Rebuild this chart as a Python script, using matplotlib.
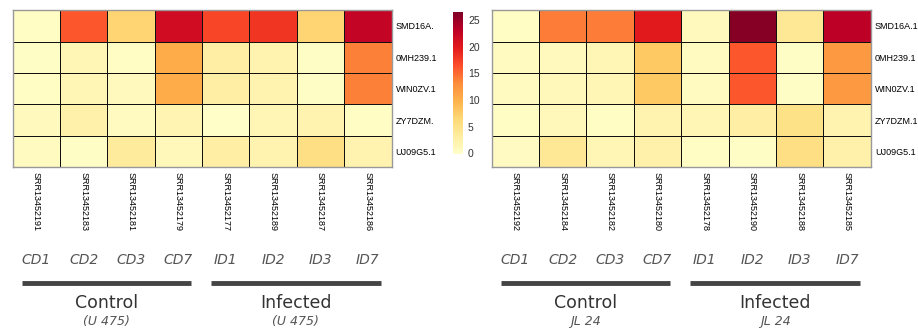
import numpy as np
import matplotlib
matplotlib.use('Agg')
import matplotlib.pyplot as plt
from matplotlib.colors import Normalize

W, H = 918, 331

genes_left = ['SMD16A.', '0MH239.1', 'WIN0ZV.1', 'ZY7DZM.', 'UJ09G5.1']
genes_right = ['SMD16A.1', '0MH239.1', 'WIN0ZV.1', 'ZY7DZM.1', 'UJ09G5.1']

samples_left = ['SRR13452191', 'SRR13452183', 'SRR13452181', 'SRR13452179',
                'SRR13452177', 'SRR13452189', 'SRR13452187', 'SRR13452186']
samples_right = ['SRR13452192', 'SRR13452184', 'SRR13452182', 'SRR13452180',
                 'SRR13452178', 'SRR13452190', 'SRR13452188', 'SRR13452185']

conditions = ['CD1', 'CD2', 'CD3', 'CD7', 'ID1', 'ID2', 'ID3', 'ID7']
groups = ['Control', 'Infected']
strain_left = '(U 475)'
strain_right = 'JL 24'

# expression values (rows = genes, cols = samples)
vals_left = [
    [0.5, 16.0, 6.8, 21.5, 17.0, 18.0, 6.8, 22.5],
    [0.3, 1.5, 0.5, 10.5, 3.0, 2.0, 0.3, 13.8],
    [0.5, 1.5, 1.0, 10.5, 3.0, 2.0, 0.3, 13.8],
    [1.0, 2.5, 0.8, 1.8, 0.2, 1.5, 2.0, 0.5],
    [0.8, 0.3, 3.5, 1.2, 3.0, 2.0, 5.5, 2.0],
]
vals_right = [
    [0.5, 14.0, 14.0, 19.8, 1.0, 26.0, 4.0, 23.0],
    [0.8, 1.0, 1.5, 8.0, 0.8, 16.0, 0.3, 12.0],
    [0.8, 1.2, 1.5, 8.0, 0.8, 16.0, 0.3, 12.0],
    [0.5, 1.2, 0.5, 2.0, 1.5, 3.0, 5.0, 2.0],
    [0.7, 4.0, 1.5, 2.5, 0.5, 0.3, 5.5, 2.5],
]

cmap = plt.get_cmap('YlOrRd')
norm = Normalize(vmin=-0.2, vmax=26.4)

fig = plt.figure(figsize=(W / 100, H / 100), dpi=100)


def px_axes(x0, y0, x1, y1):
    return fig.add_axes([x0 / W, 1 - y1 / H, (x1 - x0) / W, (y1 - y0) / H])


def draw_heat(x0, x1, vals, genes, samples, strain):
    ax = px_axes(x0, 10, x1, 167.5)
    data = np.array(vals)
    ax.pcolormesh(data, cmap=cmap, norm=norm, edgecolors='#111111', linewidth=0.55)
    ax.set_xlim(0, data.shape[1])
    ax.set_ylim(data.shape[0], 0)
    for s in ax.spines.values():
        s.set_color('#999999')
        s.set_linewidth(1)
    ax.yaxis.tick_right()
    ax.set_yticks(np.arange(len(genes)) + 0.5)
    ax.set_yticklabels(genes, fontsize=6.5, family='Liberation Sans')
    ax.set_xticks(np.arange(len(samples)) + 0.5)
    ax.set_xticklabels(samples, rotation=270, fontsize=6.5, family='Liberation Sans', va='top')
    ax.tick_params(length=0, pad=3)

    cw = (x1 - x0) / 8
    for i, c in enumerate(conditions):
        fig.text((x0 + cw * (i + 0.5)) / W, 1 - 260 / H, c, ha='center', va='center',
                 fontsize=10, style='italic', color='#555555')
    for g, (a, b) in zip(groups, [(0, 4), (4, 8)]):
        xa = x0 + cw * a + 9
        xb = x0 + cw * b - 11
        fig.add_artist(plt.Line2D([xa / W, xb / W], [1 - 283 / H, 1 - 283 / H],
                                  color='#444444', linewidth=3.5, solid_capstyle='butt'))
        xc = (xa + xb) / 2
        fig.text(xc / W, 1 - 303 / H, g, ha='center', va='center', fontsize=12.5, color='#333333')
        fig.text(xc / W, 1 - 322 / H, strain, ha='center', va='center', fontsize=9,
                 style='italic', color='#555555')


draw_heat(12.7, 391.5, vals_left, genes_left, samples_left, strain_left)
draw_heat(491.7, 870.7, vals_right, genes_right, samples_right, strain_right)

cax = px_axes(452.7, 12.3, 462.5, 154.5)
cb = fig.colorbar(plt.cm.ScalarMappable(norm=norm, cmap=cmap), cax=cax)
cb.set_ticks([0, 5, 10, 15, 20, 25])
cb.outline.set_visible(False)
cax.tick_params(length=0, labelsize=7.5, pad=4)
for t in cax.get_yticklabels():
    t.set_family('Liberation Sans')
    t.set_color('#333333')

fig.savefig('out.png', dpi=100)
